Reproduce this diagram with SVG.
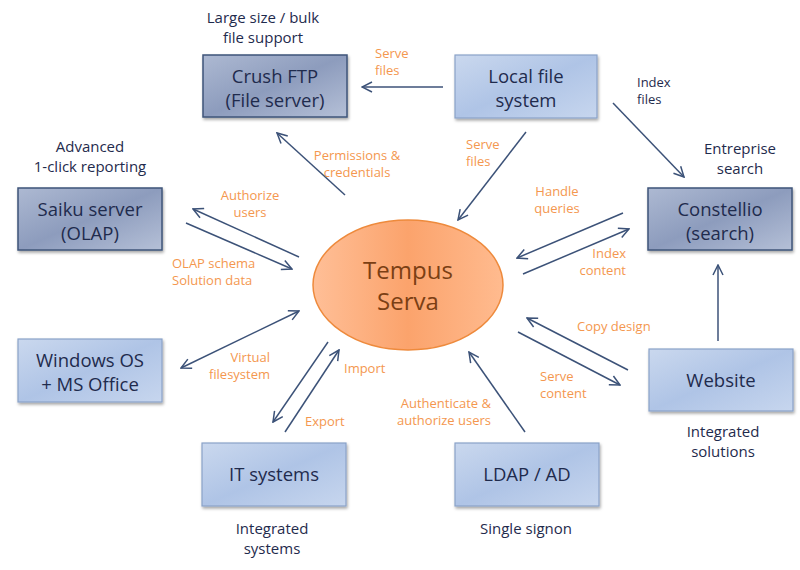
<svg xmlns="http://www.w3.org/2000/svg" width="800" height="570" viewBox="0 0 800 570">
<style>
.lbl{font-family:"Open Sans","Liberation Sans",sans-serif;font-size:15px;fill:#1f2b4d;text-anchor:middle}
.nt{font-family:"Open Sans","Liberation Sans",sans-serif;font-size:18.5px;fill:#1f2b4d;text-anchor:middle}
.ol{font-family:"Open Sans","Liberation Sans",sans-serif;font-size:13px;fill:#f4974f}
.nl{font-family:"Open Sans","Liberation Sans",sans-serif;font-size:13px;fill:#1f2b4d}
.dark{fill:url(#gd);stroke:#3f5479;stroke-width:1.5;filter:url(#sh)}
.light{fill:url(#gl);stroke:#8aa2c8;stroke-width:1.2;filter:url(#sh)}
.c line{stroke:#3c5278;stroke-width:1.5;fill:none}
</style>
<defs>
<linearGradient id="gd" x1="0" y1="0" x2="1" y2="1"><stop offset="0" stop-color="#adb9d2"/><stop offset="0.5" stop-color="#8d9cbd"/><stop offset="1" stop-color="#b5c0d7"/></linearGradient>
<linearGradient id="gl" x1="0" y1="0" x2="1" y2="1"><stop offset="0" stop-color="#cad8ee"/><stop offset="0.5" stop-color="#afc4e6"/><stop offset="1" stop-color="#c7d6ee"/></linearGradient>
<linearGradient id="go" x1="0" y1="0" x2="1" y2="0"><stop offset="0" stop-color="#ffbf97"/><stop offset="0.5" stop-color="#fba36c"/><stop offset="1" stop-color="#ffbb8f"/></linearGradient>
<filter id="sh" x="-10%" y="-10%" width="125%" height="130%"><feDropShadow dx="1" dy="2" stdDeviation="1.5" flood-color="#000" flood-opacity="0.35"/></filter>
<marker id="a" viewBox="0 0 12 12" refX="11" refY="6" markerWidth="12" markerHeight="12" markerUnits="userSpaceOnUse" orient="auto-start-reverse"><path d="M1,1 L11,6 L1,11" fill="none" stroke="#3c5278" stroke-width="1.5"/></marker>
</defs>
<rect width="800" height="570" fill="#fff"/>

<g class="c" id="connectors">
<line x1="443" y1="87" x2="362" y2="87" marker-end="url(#a)"/>
<line x1="613" y1="103" x2="684" y2="177" marker-end="url(#a)"/>
<line x1="526" y1="132" x2="458" y2="220" marker-end="url(#a)"/>
<line x1="345" y1="195" x2="277" y2="133" marker-end="url(#a)"/>
<line x1="299" y1="257" x2="193" y2="209" marker-end="url(#a)"/>
<line x1="186" y1="223" x2="292" y2="269" marker-end="url(#a)"/>
<line x1="623" y1="213" x2="517" y2="258" marker-end="url(#a)"/>
<line x1="523" y1="274" x2="629" y2="229" marker-end="url(#a)"/>
<line x1="718" y1="341" x2="718" y2="265" marker-end="url(#a)"/>
<line x1="628" y1="370" x2="527" y2="318" marker-end="url(#a)"/>
<line x1="518" y1="332" x2="620" y2="385" marker-end="url(#a)"/>
<line x1="525" y1="432" x2="469" y2="352" marker-end="url(#a)"/>
<line x1="181" y1="368" x2="299" y2="311" marker-start="url(#a)" marker-end="url(#a)"/>
<line x1="328" y1="342" x2="273" y2="422" marker-end="url(#a)"/>
<line x1="285" y1="432" x2="339" y2="350" marker-end="url(#a)"/>
</g>

<g id="tempus">
<ellipse cx="408" cy="285" rx="95" ry="65" fill="url(#go)" stroke="#ee8a3c" stroke-width="1.5"/>
<text x="408" y="279" text-anchor="middle" font-family="Open Sans, Liberation Sans, sans-serif" font-size="24" fill="#7b3f14">Tempus</text>
<text x="408" y="310" text-anchor="middle" font-family="Open Sans, Liberation Sans, sans-serif" font-size="24" fill="#7b3f14">Serva</text>
</g>

<g id="crushftp">
<rect class="dark" x="203" y="55" width="144" height="62"/>
<text class="nt" x="275" y="83">Crush FTP</text>
<text class="nt" x="275" y="107">(File server)</text>
<text class="lbl" x="263" y="23">Large size / bulk</text>
<text class="lbl" x="263" y="43">file support</text>
</g>

<g id="localfs">
<rect class="light" x="455" y="55" width="142" height="63"/>
<text class="nt" x="526" y="83">Local file</text>
<text class="nt" x="526" y="107">system</text>
</g>

<g id="saiku">
<rect class="dark" x="18" y="188" width="144" height="62"/>
<text class="nt" x="90" y="216">Saiku server</text>
<text class="nt" x="90" y="240">(OLAP)</text>
<text class="lbl" x="90" y="152">Advanced</text>
<text class="lbl" x="90" y="172">1-click reporting</text>
</g>

<g id="constellio">
<rect class="dark" x="648" y="188" width="144" height="62"/>
<text class="nt" x="720" y="216">Constellio</text>
<text class="nt" x="720" y="240">(search)</text>
<text class="lbl" x="740" y="154">Entreprise</text>
<text class="lbl" x="740" y="174">search</text>
</g>

<g id="windows">
<rect class="light" x="18" y="339" width="144" height="63"/>
<text class="nt" x="90" y="367">Windows OS</text>
<text class="nt" x="90" y="391">+ MS Office</text>
</g>

<g id="website">
<rect class="light" x="649" y="349" width="144" height="62"/>
<text class="nt" x="721" y="387">Website</text>
<text class="lbl" x="723" y="437">Integrated</text>
<text class="lbl" x="723" y="457">solutions</text>
</g>

<g id="itsystems">
<rect class="light" x="202" y="443" width="144" height="63"/>
<text class="nt" x="274" y="481">IT systems</text>
<text class="lbl" x="272" y="534">Integrated</text>
<text class="lbl" x="272" y="554">systems</text>
</g>

<g id="ldap">
<rect class="light" x="455" y="443" width="144" height="63"/>
<text class="nt" x="527" y="481">LDAP / AD</text>
<text class="lbl" x="526" y="534">Single signon</text>
</g>

<g id="labels">
<text class="ol" x="375" y="58">Serve</text>
<text class="ol" x="375" y="75">files</text>
<text class="nl" x="637" y="87">Index</text>
<text class="nl" x="637" y="104">files</text>
<text class="ol" x="466" y="149">Serve</text>
<text class="ol" x="466" y="166">files</text>
<text class="ol" x="357" y="160" text-anchor="middle">Permissions &amp;</text>
<text class="ol" x="357" y="177" text-anchor="middle">credentials</text>
<text class="ol" x="250" y="200" text-anchor="middle">Authorize</text>
<text class="ol" x="250" y="217" text-anchor="middle">users</text>
<text class="ol" x="172" y="268">OLAP schema</text>
<text class="ol" x="172" y="285">Solution data</text>
<text class="ol" x="557" y="196" text-anchor="middle">Handle</text>
<text class="ol" x="557" y="213" text-anchor="middle">queries</text>
<text class="ol" x="626" y="258" text-anchor="end">Index</text>
<text class="ol" x="626" y="275" text-anchor="end">content</text>
<text class="ol" x="577" y="331">Copy design</text>
<text class="ol" x="540" y="381">Serve</text>
<text class="ol" x="540" y="398">content</text>
<text class="ol" x="491" y="408" text-anchor="end">Authenticate &amp;</text>
<text class="ol" x="491" y="425" text-anchor="end">authorize users</text>
<text class="ol" x="270" y="362" text-anchor="end">Virtual</text>
<text class="ol" x="270" y="379" text-anchor="end">filesystem</text>
<text class="ol" x="344" y="373">Import</text>
<text class="ol" x="305" y="426">Export</text>
</g>
</svg>
